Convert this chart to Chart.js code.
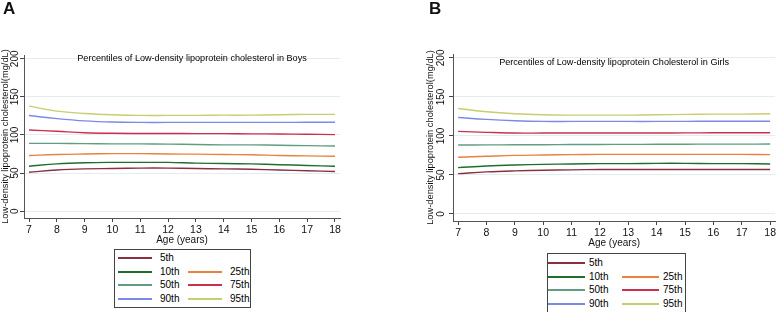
<!DOCTYPE html>
<html>
<head>
<meta charset="utf-8">
<script src="https://cdn.jsdelivr.net/npm/chart.js@4.4.1/dist/chart.umd.min.js"></script>
<style>
    body { margin: 0; background: #fff; font-family: "Liberation Sans", Arial, sans-serif; }
    #wrap { position: relative; width: 778px; height: 312px; overflow: hidden; }
    canvas { position: absolute; top: 0; }
    .panel-tag { position: absolute; top: -1px; font-size: 17px; font-weight: bold; color: #111; }
    .legend {
        position: absolute; border: 1px solid #444; background: #fff;
        font-size: 10px; color: #000; box-sizing: border-box;
    }
    .legend .item { position: absolute; height: 12px; line-height: 12px; }
    .legend .swatch { position: absolute; top: 5px; height: 2px; }
    .legend .label { position: absolute; top: 0; white-space: nowrap; }
</style>
</head>
<body>
<div id="wrap">
    <canvas id="chart_boys" width="389" height="312" style="left:0px;width:389px;height:312px"></canvas>
    <canvas id="chart_girls" width="389" height="312" style="left:389px;width:389px;height:312px"></canvas>
    <div class="panel-tag" style="left:3px">A</div>
    <div class="panel-tag" style="left:429px">B</div>
    <div class="legend" id="legend_boys" style="left:114px;top:249px;width:137px;height:59px"></div>
    <div class="legend" id="legend_girls" style="left:547px;top:253px;width:139px;height:60px"></div>
</div>
<script>

const ages = [7, 8, 9, 10, 11, 12, 13, 14, 15, 16, 17, 18];
const yTicks = [0, 50, 100, 150, 200];

const percentileNames = ["5th", "10th", "25th", "50th", "75th", "90th", "95th"];
const percentileColors = ["#8a3040", "#1f6e2a", "#e8823c", "#5f9e80", "#cc3050", "#7a8ae6", "#c4cf70"];

// boys
const boysP5  = [51, 54, 55.5, 56, 56.5, 56.5, 56, 55.5, 55, 54, 53, 52];
const boysP10 = [59, 62, 63.5, 64, 64, 64, 63, 62.5, 62, 61, 60, 59];
const boysP25 = [73, 74.3, 75, 75.5, 75.5, 75, 74.8, 74.3, 74, 73, 72.5, 72];
const boysP50 = [89, 89, 88.7, 88.3, 88.3, 88, 87.5, 87, 87, 86.5, 86, 85.5];
const boysP75 = [106.5, 104.8, 103, 102.2, 102, 102, 101.8, 101.8, 101.5, 101.3, 101, 100.5];
const boysP90 = [125.5, 121.5, 118.5, 117, 116.5, 116.5, 116.5, 116.5, 116.5, 116.5, 116.7, 116.8];
const boysP95 = [137.8, 131.3, 128.2, 126.5, 125.7, 125.7, 125.7, 126, 126, 126.5, 127, 127];

// girls
const girlsP5  = [51.7, 53.9, 55.2, 56, 56.5, 57, 57, 57, 57, 57, 57, 57];
const girlsP10 = [59.4, 61.5, 62.8, 63.6, 64, 64.5, 64.5, 64.9, 64.9, 64.5, 64.5, 64];
const girlsP25 = [72.6, 73.9, 75.1, 75.6, 76, 76.4, 76.4, 76.4, 76.4, 76.4, 76.4, 76];
const girlsP50 = [88.4, 88.5, 88.7, 88.8, 89, 89.1, 89.2, 89.3, 89.4, 89.5, 89.5, 89.6];
const girlsP75 = [105.8, 104.6, 103.7, 103.7, 103.7, 103.7, 103.7, 103.8, 103.9, 104, 104, 104.1];
const girlsP90 = [123.7, 121.2, 119.5, 118.6, 118.6, 118.6, 118.6, 118.6, 118.7, 118.8, 118.8, 118.8];
const girlsP95 = [135.2, 131, 128.4, 127.1, 126.7, 126.7, 126.7, 127.1, 127.6, 128, 128, 128.4];

const boysSeries = [boysP5, boysP10, boysP25, boysP50, boysP75, boysP90, boysP95];
const girlsSeries = [girlsP5, girlsP10, girlsP25, girlsP50, girlsP75, girlsP90, girlsP95];

const FONT = "'Liberation Sans', Arial, sans-serif";

// Stata draws the y tick labels turned on their side
const rotatedYTicks = {
    id: "rotatedYTicks",
    afterDraw(chart, args, opts) {
        const scale = chart.scales.y;
        const ctx = chart.ctx;
        ctx.save();
        ctx.fillStyle = "#111";
        ctx.font = "10px " + FONT;
        ctx.textAlign = "center";
        ctx.textBaseline = "middle";
        scale.ticks.forEach(tick => {
            const y = scale.getPixelForValue(tick.value);
            ctx.save();
            ctx.translate(scale.right - opts.offset, y);
            ctx.rotate(-Math.PI / 2);
            ctx.fillText(String(tick.value), 0, 0);
            ctx.restore();
        });
        ctx.restore();
    }
};

const innerTitle = {
    id: "innerTitle",
    afterDraw(chart, args, opts) {
        const area = chart.chartArea;
        const ctx = chart.ctx;
        ctx.save();
        ctx.fillStyle = "#000";
        ctx.font = "9.1px " + FONT;
        ctx.textAlign = "center";
        ctx.textBaseline = "middle";
        ctx.fillText(opts.text, (area.left + area.right) / 2 + opts.dx, area.top + opts.dy);
        ctx.restore();
    }
};

function buildChart(canvasId, series, cfg) {

    const datasets = series.map((values, i) => ({
        label: percentileNames[i],
        data: ages.map((age, j) => ({ x: age, y: values[j] })),
        borderColor: percentileColors[i],
        borderWidth: 1.4,
        pointRadius: 0,
        tension: 0.4,
        fill: false,
    }));

    return new Chart(document.getElementById(canvasId), {
        type: "line",
        data: { datasets: datasets },
        plugins: [rotatedYTicks, innerTitle],
        options: {
            responsive: false,
            animation: false,
            devicePixelRatio: 1,
            layout: { padding: cfg.padding },
            plugins: {
                legend: { display: false },
                tooltip: { enabled: false },
                rotatedYTicks: { offset: cfg.tickLabelOffset },
                innerTitle: { text: cfg.title, dx: cfg.titleDx, dy: cfg.titleDy },
            },
            scales: {
                x: {
                    type: "linear",
                    min: 6.82,
                    max: 18.18,
                    afterBuildTicks: s => { s.ticks = ages.map(v => ({ value: v })); },
                    afterFit: s => { s.height = 30; },
                    grid: {
                        drawOnChartArea: false,
                        drawTicks: true,
                        tickLength: 4,
                        tickColor: "#444",
                    },
                    border: { color: "#555", width: 1 },
                    ticks: {
                        color: "#111",
                        font: { family: FONT, size: 10.5 },
                        padding: 2,
                        maxRotation: 0,
                        autoSkip: false,
                    },
                    title: {
                        display: true,
                        text: "Age (years)",
                        color: "#111",
                        font: { family: FONT, size: 10 },
                        padding: { top: 0, bottom: 2 },
                    },
                },
                y: {
                    min: -9,
                    max: 205,
                    afterBuildTicks: s => { s.ticks = yTicks.map(v => ({ value: v })); },
                    afterFit: s => { s.width = cfg.yAxisWidth; },
                    grid: {
                        color: "#e3edf0",
                        drawTicks: true,
                        tickLength: 4,
                        tickColor: "#444",
                    },
                    border: { color: "#555", width: 1 },
                    ticks: { display: false },
                    title: {
                        display: true,
                        text: "Low-density lipoprotein cholesterol(mg/dL)",
                        color: "#111",
                        font: { family: FONT, size: 9.3 },
                        padding: 0,
                    },
                },
            },
        },
    });
}

function buildLegend(elementId, cfg) {

    const box = document.getElementById(elementId);

    // first row holds only the 5th percentile, then two columns
    const slots = [[0, 0], [1, 0], [1, 1], [2, 0], [2, 1], [3, 0], [3, 1]];

    percentileNames.forEach((name, i) => {
        const row = slots[i][0];
        const col = slots[i][1];
        const item = document.createElement("div");
        item.className = "item";
        item.style.top = (cfg.rowTop + row * cfg.rowGap - 6) + "px";
        item.style.left = (col === 0 ? cfg.col1 : cfg.col2) + "px";

        const swatch = document.createElement("div");
        swatch.className = "swatch";
        swatch.style.left = "0px";
        swatch.style.width = cfg.lineWidth + "px";
        swatch.style.background = percentileColors[i];

        const label = document.createElement("div");
        label.className = "label";
        label.style.left = cfg.textGap + "px";
        label.textContent = name;

        item.appendChild(swatch);
        item.appendChild(label);
        box.appendChild(item);
    });
}

buildChart("chart_boys", boysSeries, {
    padding: { left: 0, top: 55, right: 49, bottom: 64 },
    yAxisWidth: 24,
    tickLabelOffset: 8.5,
    title: "Percentiles of Low-density lipoprotein cholesterol in Boys",
    titleDx: 10,
    titleDy: 3,
});

buildChart("chart_girls", girlsSeries, {
    padding: { left: 36, top: 54, right: 2, bottom: 61 },
    yAxisWidth: 28,
    tickLabelOffset: 11.5,
    title: "Percentiles of Low-density lipoprotein Cholesterol in Girls",
    titleDx: 0,
    titleDy: 8.5,
});

buildLegend("legend_boys", { rowTop: 8, rowGap: 13.5, col1: 3, col2: 73, lineWidth: 34, textGap: 42 });
buildLegend("legend_girls", { rowTop: 9, rowGap: 13.5, col1: 0, col2: 74, lineWidth: 37, textGap: 41 });

</script>
</body>
</html>
